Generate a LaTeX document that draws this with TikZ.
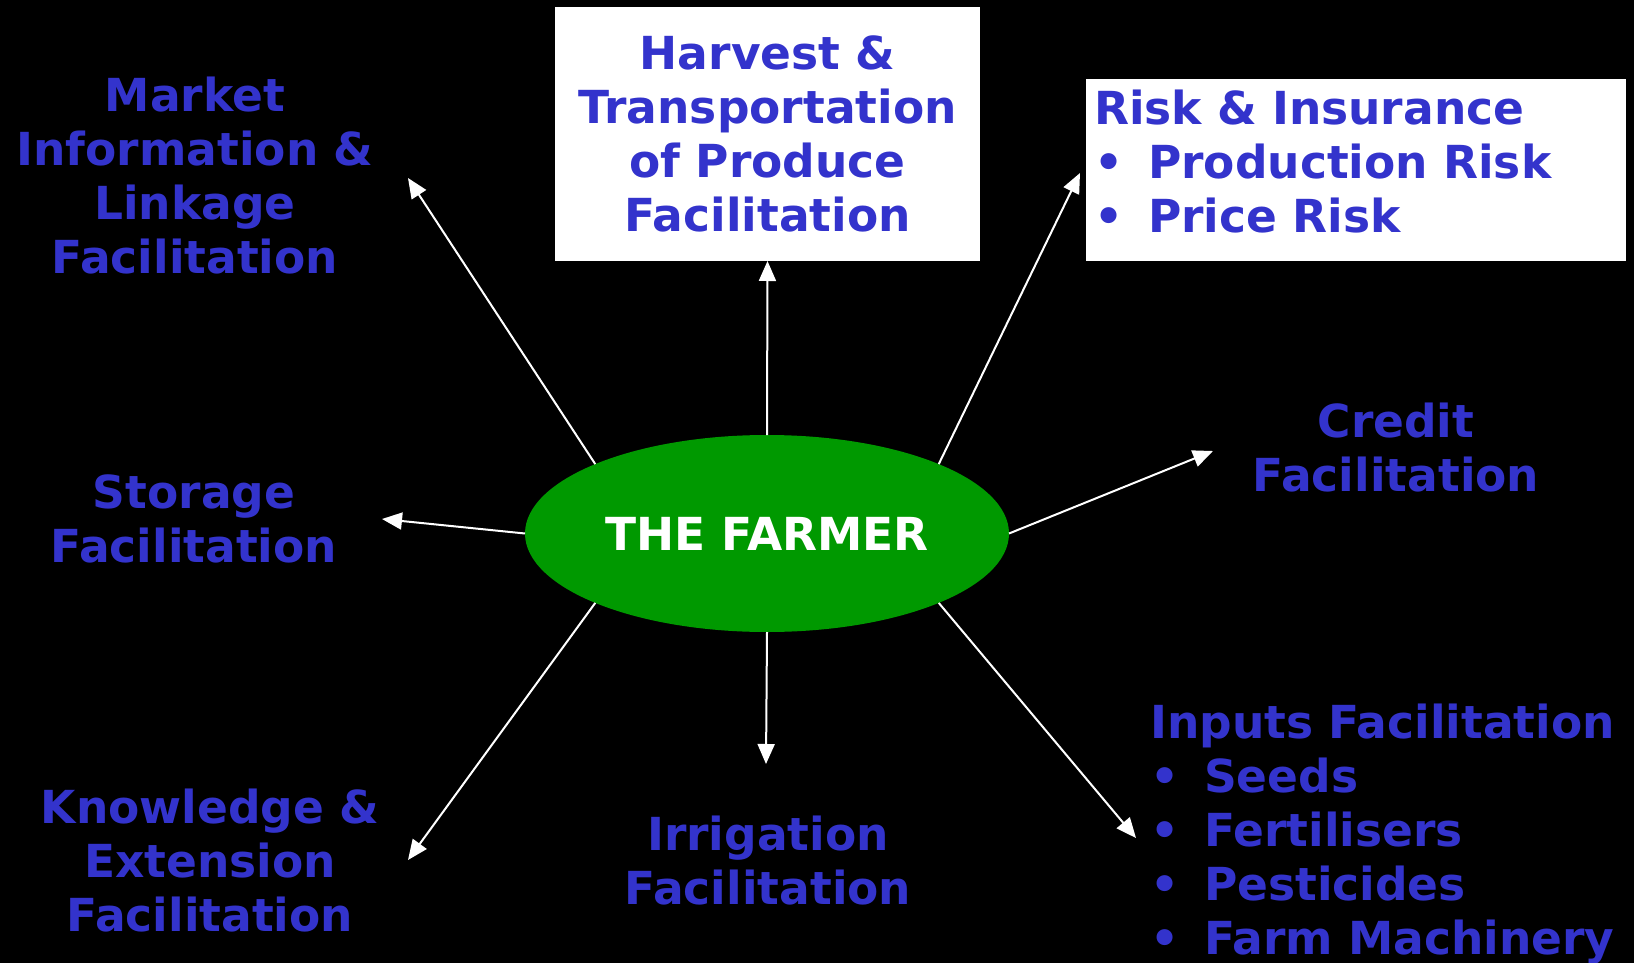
\documentclass[tikz,border=0pt]{standalone}
\usepackage{fontspec}
\setmainfont{DejaVu Sans}
\usetikzlibrary{arrows.meta,shapes.geometric}
\definecolor{lblue}{RGB}{51,51,204}
\definecolor{fgreen}{RGB}{0,153,0}
\tikzset{
  lblfont/.style={font=\fontsize{45.5}{54}\selectfont\bfseries},
  lbl/.style={lblfont, text=lblue, inner sep=0pt, text width=440pt, align=center, anchor=base},
  lbll/.style={lblfont, text=lblue, inner sep=0pt, text width=540pt, align=left, anchor=base west},
  wbox/.style={fill=white, inner sep=0pt, outer sep=0pt},
  arr/.style={draw=white, line width=2pt, -{Triangle[length=20pt,width=17pt]}}
}
\newcommand{\bul}[1]{\makebox[#1][l]{•}}
\begin{document}
\begin{tikzpicture}[x=1pt,y=-1pt]
\fill[black] (0,0) rectangle (1634,963);
\useasboundingbox (0,0) rectangle (1634,963);

% white boxes
\node[wbox, minimum width=425pt, minimum height=254pt] (harvestbox) at (767.5,134) {};
\node[wbox, minimum width=540pt, minimum height=182pt] (riskbox) at (1356,170) {};

% centre
\node[ellipse, fill=fgreen, minimum width=484pt, minimum height=197pt, inner sep=0pt, outer sep=0pt, text=white, lblfont] (farmer) at (767,533.5) {THE FARMER};

% labels
\node[lbl] (harvest) at (767.5,70) {Harvest \&\\Transportation\\of Produce\\Facilitation};
\node[lbll] (risk) at (1094,125) {Risk \& Insurance\\\bul{54pt}Production Risk\\\bul{54pt}Price Risk};
\node[lbl] (market) at (195,112) {Market\\Information \&\\Linkage\\Facilitation};
\node[lbl] (storage) at (194,508) {Storage\\Facilitation};
\node[lbl] (credit) at (1396,437) {Credit\\Facilitation};
\node[lbl] (knowledge) at (210,823) {Knowledge \&\\Extension\\Facilitation};
\node[lbl] (irrigation) at (768,850) {Irrigation\\Facilitation};
\node[lbll] (inputs) at (1150,738) {Inputs Facilitation\\\bul{54pt}Seeds\\\bul{54pt}Fertilisers\\\bul{54pt}Pesticides\\\bul{54pt}Farm Machinery};

% arrow tips
\coordinate (tmarket) at (408,178);
\coordinate (tstorage) at (382,519);
\coordinate (tknow) at (408,860);
\coordinate (tirr) at (766,764);
\coordinate (tinputs) at (1136,838);
\coordinate (tcredit) at (1213,451);
\coordinate (trisk) at (1080,173);

% arrows
\draw[arr] (farmer.90) -- (harvestbox.south);
\draw[arr] (farmer.22) -- (trisk);
\draw[arr] (farmer.0) -- (tcredit);
\draw[arr] (farmer.-22) -- (tinputs);
\draw[arr] (farmer.270) -- (tirr);
\draw[arr] (farmer.202) -- (tknow);
\draw[arr] (farmer.180) -- (tstorage);
\draw[arr] (farmer.158) -- (tmarket);
\end{tikzpicture}
\end{document}
